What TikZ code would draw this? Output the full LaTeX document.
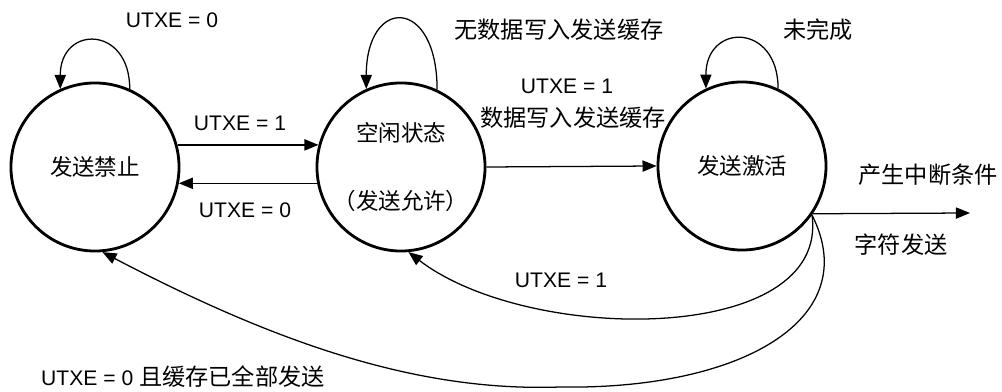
\documentclass[tikz,border=0pt]{standalone}
\usepackage{fontspec}
\setmainfont{Liberation Sans}
\newfontfamily\cjk{Noto Sans CJK SC}
\usetikzlibrary{arrows.meta}

\begin{document}
\begin{tikzpicture}[x=0.025cm, y=-0.025cm,
    state/.style={draw, circle, line width=2pt, minimum size=4.2cm, inner sep=0pt, align=center, font=\cjk\fontsize{16}{19}\selectfont},
    arr/.style={-{Triangle[length=10pt,width=8pt]}, line width=0.9pt},
    lbl/.style={font=\fontsize{15}{18}\selectfont, inner sep=1pt},
    zh/.style={font=\cjk\fontsize{16.5}{20}\selectfont, inner sep=1pt}
]
\useasboundingbox (0,0) rectangle (1002,392);

\node[state] (off) at (95,167) {发送禁止};
\node[state] (idle) at (401,167) {空闲状态\\[29pt]（发送允许）};
\node[state] (active) at (742,166) {发送激活};
\coordinate (irq) at (970,213);

% self loops
\draw[arr] (off.66) .. controls +(0,-64) and +(0,-64) .. (off.114);
\draw[arr] (idle.65) .. controls +(0,-93) and +(0,-93) .. (idle.114);
\draw[arr] (active.65) .. controls +(0,-66) and +(0,-66) .. (active.115);

% transitions
\draw[arr] (off.15) -- (idle.165);
\draw[arr] (idle.191) -- (off.-11);
\draw[arr] (idle.east) -- (active.west);
\draw[arr] (active.-34) -- (irq);
\draw[arr] (active.-35) .. controls (830,345) and (530,345) .. (idle.-85);
\draw[arr] (active.-35) .. controls (865,320) and (740,390) .. (560,387)
    .. controls (420,392) and (280,345) .. (off.-85);

% labels
\node[lbl] (l1) at (172,20) {UTXE = 0};
\node[zh] (l2) at (559,30) {无数据写入发送缓存};
\node[zh] (l3) at (818,30) {未完成};
\node[lbl] (l4) at (240,123) {UTXE = 1};
\node[lbl] (l5) at (245,210) {UTXE = 0};
\node[lbl] (l6) at (567,86) {UTXE = 1};
\node[zh] (l7) at (573,118) {数据写入发送缓存};
\node[zh] (l8) at (928,175) {产生中断条件};
\node[zh] (l9) at (901,245) {字符发送};
\node[lbl] (l10) at (561,280) {UTXE = 1};
\node[lbl] (l11) at (183,377) {UTXE = 0 {\cjk\fontsize{16.5}{20}\selectfont 且缓存已全部发送}};
\end{tikzpicture}
\end{document}
